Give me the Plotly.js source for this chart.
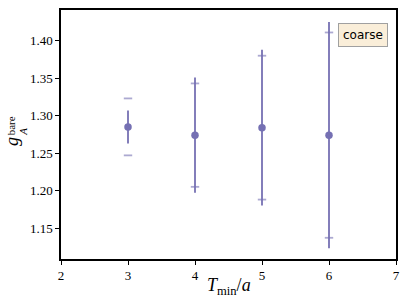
<!DOCTYPE html>
<html><head><meta charset="utf-8">
<script src="https://cdn.plot.ly/plotly-3.0.1.min.js"></script>
<style>html,body{margin:0;padding:0;background:#fff}</style>
</head><body>
<div id="plot" style="width:407px;height:307px"></div>
<script>
const tmin = [3, 4, 5, 6];
const gA = [1.285, 1.274, 1.284, 1.274];
const errTotal = [0.022, 0.077, 0.104, 0.151];
const errStat = [0.038, 0.069, 0.096, 0.137];
const xTicks = [2, 3, 4, 5, 6, 7];
const yTicks = [1.15, 1.20, 1.25, 1.30, 1.35, 1.40];
const yTickText = ["1.15", "1.20", "1.25", "1.30", "1.35", "1.40"];
const legendLabel = "coarse";

const color = "#7570b3";
const serif = "'Liberation Serif', 'DejaVu Serif', serif";

const dashX = [], dashY = [];
tmin.forEach((t, i) => {
  dashX.push(t, t);
  dashY.push(gA[i] + errStat[i], gA[i] - errStat[i]);
});

const traces = [
  {
    x: dashX, y: dashY, type: "scatter", mode: "markers",
    marker: {symbol: "line-ew", size: 6, line: {color: "rgba(117,112,179,0.6)", width: 1.8}},
    hoverinfo: "skip", showlegend: false
  },
  {
    x: tmin, y: gA, type: "scatter", mode: "markers",
    marker: {color: color, size: 7.5},
    error_y: {type: "data", array: errTotal, visible: true, thickness: 2, width: 0, color: "rgba(117,112,179,0.9)"},
    showlegend: false
  }
];

const layout = {
  width: 407, height: 307,
  margin: {l: 61, r: 11, t: 10, b: 48},
  paper_bgcolor: "#fff", plot_bgcolor: "#fff",
  showlegend: false,
  xaxis: {
    range: [2, 7], tickvals: xTicks, ticktext: xTicks.map(String),
    ticks: "outside", ticklen: 4, tickwidth: 1, tickcolor: "#000",
    showgrid: false, zeroline: false,
    showline: true, linecolor: "#000", linewidth: 1.6, mirror: true,
    tickfont: {family: serif, size: 13, color: "#000"}
  },
  yaxis: {
    range: [1.1087, 1.441], tickvals: yTicks, ticktext: yTickText,
    ticks: "outside", ticklen: 4, tickwidth: 1, tickcolor: "#000",
    showgrid: false, zeroline: false,
    showline: true, linecolor: "#000", linewidth: 1.6, mirror: true,
    tickfont: {family: serif, size: 13, color: "#000"}
  },
  annotations: [
    {
      xref: "paper", yref: "paper", x: 0.901, y: 0.90, xanchor: "center", yanchor: "middle",
      text: legendLabel, showarrow: false,
      font: {family: "'DejaVu Sans', sans-serif", size: 12, color: "#000"},
      bgcolor: "#faeed9", bordercolor: "#a0a0a0", borderwidth: 1, borderpad: 4
    },
    {
      xref: "paper", yref: "paper", x: 0.5, y: -0.112, xanchor: "center", yanchor: "middle",
      showarrow: false,
      text: "<i>T</i><sub>min</sub>/<i>a</i>",
      font: {family: serif, size: 18, color: "#000"}
    },
    {
      xref: "paper", yref: "paper", x: -0.146, y: 0.470, xanchor: "center", yanchor: "middle",
      textangle: -90, showarrow: false,
      text: "<i>g</i>",
      font: {family: serif, size: 18, color: "#000"}
    },
    {
      xref: "paper", yref: "paper", x: -0.150, y: 0.536, xanchor: "center", yanchor: "middle",
      textangle: -90, showarrow: false,
      text: "bare",
      font: {family: serif, size: 11, color: "#000"}
    },
    {
      xref: "paper", yref: "paper", x: -0.114, y: 0.51, xanchor: "center", yanchor: "middle",
      textangle: -90, showarrow: false,
      text: "<i>A</i>",
      font: {family: serif, size: 11, color: "#000"}
    }
  ]
};

Plotly.newPlot("plot", traces, layout, {displayModeBar: false, staticPlot: true});
</script>
</body></html>
